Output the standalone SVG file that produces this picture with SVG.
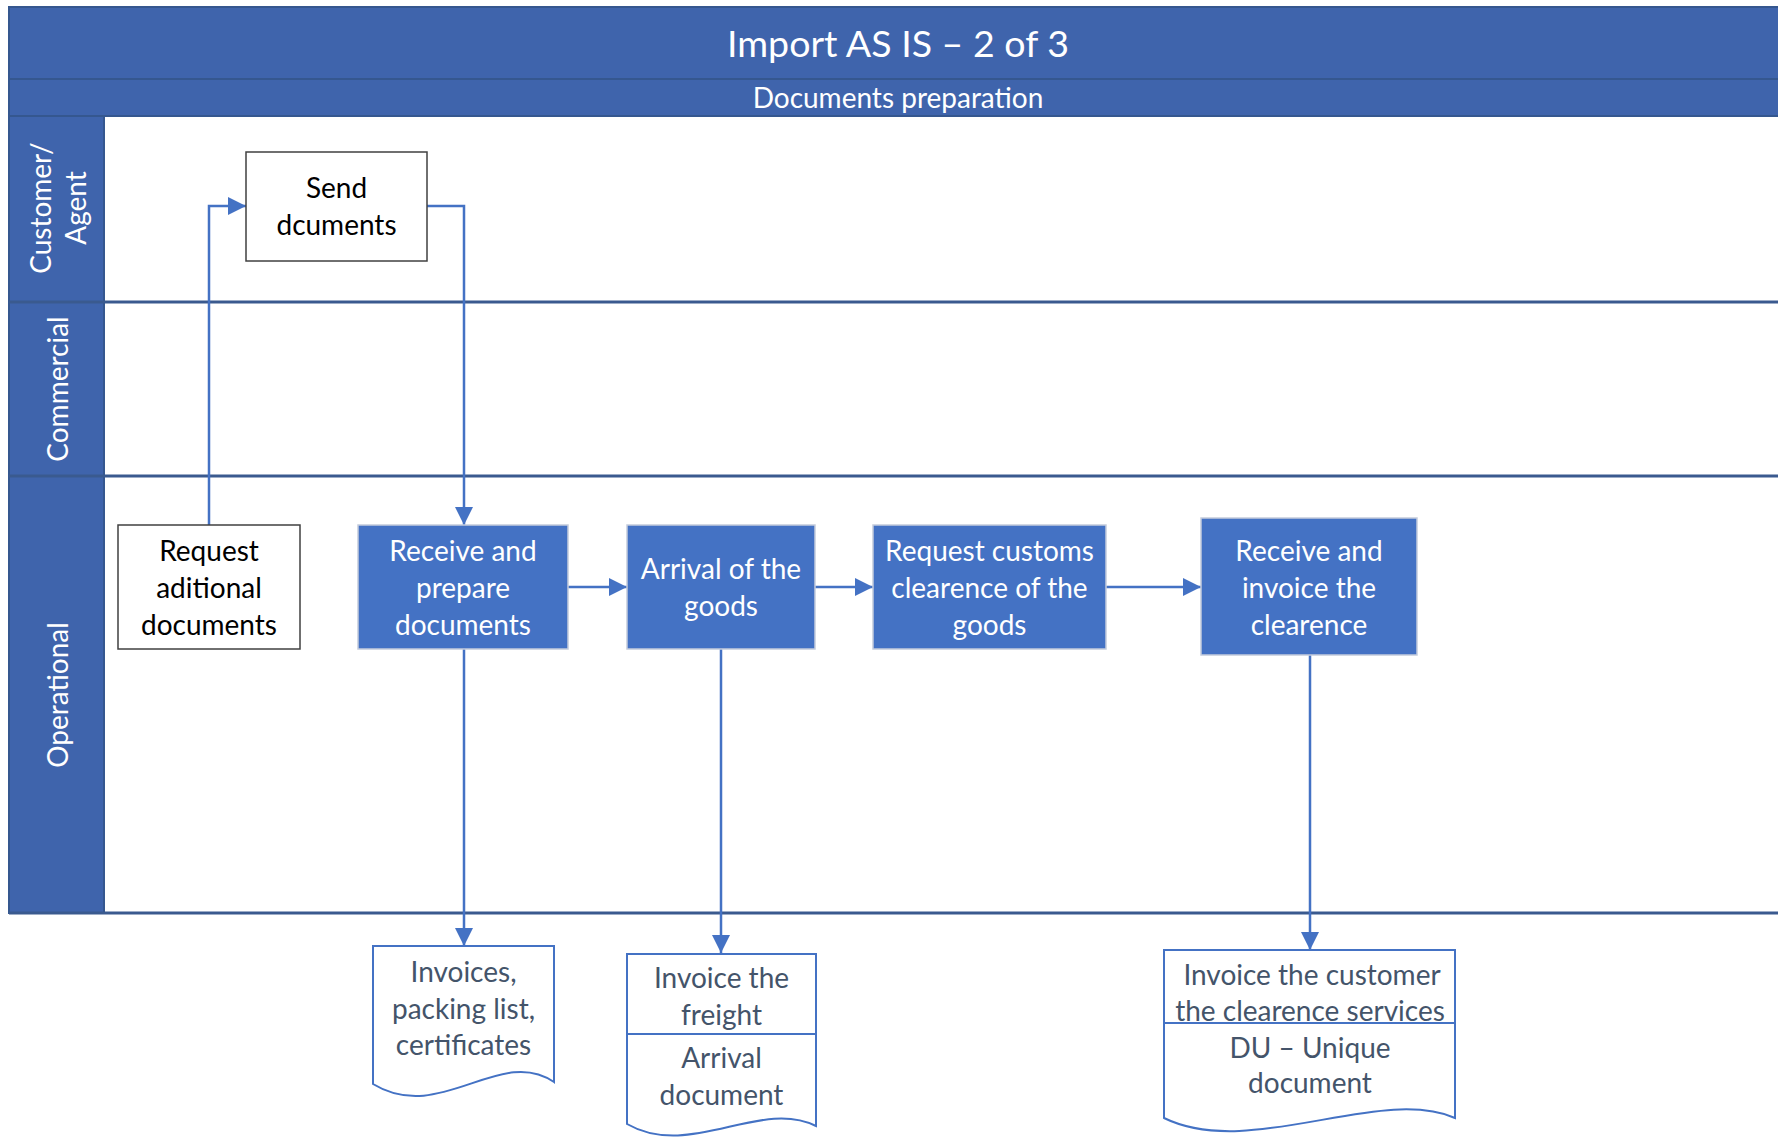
<svg xmlns="http://www.w3.org/2000/svg" width="1778" height="1139" viewBox="0 0 1778 1139">
  <style>
    .band { fill: #3F64AC; stroke: #35578F; stroke-width: 2; }
    .lane-line { stroke: #3A5A8F; stroke-width: 3; fill: none; }
    .hdr { fill: #FFFFFF; font-family: Lato, "Liberation Sans", sans-serif; text-anchor: middle; dominant-baseline: central; }
    .lane-lbl { fill: #FFFFFF; font-family: Lato, "Liberation Sans", sans-serif; font-size: 28px; text-anchor: middle; dominant-baseline: central; }
    .box-w { fill: #FFFFFF; stroke: #404040; stroke-width: 1.5; }
    .box-b { fill: #4472C4; stroke: #C4CCDC; stroke-width: 1.5; }
    .t-dark { fill: #000000; font-family: Lato, "Liberation Sans", sans-serif; font-size: 28px; text-anchor: middle; dominant-baseline: central; }
    .t-light { fill: #FFFFFF; font-family: Lato, "Liberation Sans", sans-serif; font-size: 28px; text-anchor: middle; dominant-baseline: central; }
    .doc { fill: #FFFFFF; stroke: #4472C4; stroke-width: 2; }
    .t-doc { fill: #44546A; font-family: Lato, "Liberation Sans", sans-serif; font-size: 28px; text-anchor: middle; dominant-baseline: central; }
    .conn { stroke: #4472C4; stroke-width: 2.5; fill: none; marker-end: url(#arrow); }
  </style>
  <defs>
    <marker id="arrow" markerUnits="userSpaceOnUse" markerWidth="18" markerHeight="18" viewBox="0 0 16 16" refX="16" refY="8" orient="auto">
      <path d="M0,0 L16,8 L0,16 Z" fill="#4472C4"/>
    </marker>
  </defs>

  <rect width="1778" height="1139" fill="#FFFFFF"/>

  <!-- pool header -->
  <g id="pool-header">
    <rect class="band" x="9" y="7" width="1775" height="72"/>
    <text class="hdr" x="898" y="42" font-size="37.5">Import AS IS – 2 of 3</text>
    <rect class="band" x="9" y="79" width="1775" height="37"/>
    <text class="hdr" x="898" y="97" font-size="28">Documents preparation</text>
  </g>

  <!-- swimlanes -->
  <g id="lanes">
    <rect class="band" x="9" y="116" width="95" height="797"/>
    <line class="lane-line" x1="9" y1="302" x2="1778" y2="302"/>
    <line class="lane-line" x1="9" y1="476" x2="1778" y2="476"/>
    <line class="lane-line" x1="9" y1="913" x2="1778" y2="913"/>
    <text class="lane-lbl" transform="translate(40,208) rotate(-90)">Customer/</text>
    <text class="lane-lbl" transform="translate(75,208) rotate(-90)">Agent</text>
    <text class="lane-lbl" transform="translate(57,389) rotate(-90)">Commercial</text>
    <text class="lane-lbl" transform="translate(57,695) rotate(-90)">Operational</text>
  </g>

  <!-- connectors -->
  <g id="connectors">
    <path class="conn" d="M209,525 V206 H246"/>
    <path class="conn" d="M427,206 H464 V525"/>
    <path class="conn" d="M568,587 H627"/>
    <path class="conn" d="M815,587 H873"/>
    <path class="conn" d="M1106,587 H1201"/>
    <path class="conn" d="M464,649 V946"/>
    <path class="conn" d="M721,649 V953"/>
    <path class="conn" d="M1310,655 V950"/>
  </g>

  <!-- process steps -->
  <g id="send-documents">
    <rect class="box-w" x="246" y="152" width="181" height="109"/>
    <text class="t-dark" x="336.5" y="187">Send</text>
    <text class="t-dark" x="336.5" y="224">dcuments</text>
  </g>

  <g id="request-additional-documents">
    <rect class="box-w" x="118" y="525" width="182" height="124"/>
    <text class="t-dark" x="209" y="550">Request</text>
    <text class="t-dark" x="209" y="587">aditional</text>
    <text class="t-dark" x="209" y="624">documents</text>
  </g>

  <g id="receive-prepare-documents">
    <rect class="box-b" x="358" y="525" width="210" height="124"/>
    <text class="t-light" x="463" y="550">Receive and</text>
    <text class="t-light" x="463" y="587">prepare</text>
    <text class="t-light" x="463" y="624">documents</text>
  </g>

  <g id="arrival-of-goods">
    <rect class="box-b" x="627" y="525" width="188" height="124"/>
    <text class="t-light" x="721" y="568">Arrival of the</text>
    <text class="t-light" x="721" y="605">goods</text>
  </g>

  <g id="request-customs-clearance">
    <rect class="box-b" x="873" y="525" width="233" height="124"/>
    <text class="t-light" x="989.5" y="550">Request customs</text>
    <text class="t-light" x="989.5" y="587">clearence of the</text>
    <text class="t-light" x="989.5" y="624">goods</text>
  </g>

  <g id="receive-invoice-clearance">
    <rect class="box-b" x="1201" y="518" width="216" height="137"/>
    <text class="t-light" x="1309" y="550">Receive and</text>
    <text class="t-light" x="1309" y="587">invoice the</text>
    <text class="t-light" x="1309" y="624">clearence</text>
  </g>

  <!-- documents -->
  <g id="doc-invoices">
    <path class="doc" d="M373,946 H554 V1082 C500,1045 440,1125 373,1084 Z"/>
    <text class="t-doc" x="463.5" y="971">Invoices,</text>
    <text class="t-doc" x="463.5" y="1008">packing list,</text>
    <text class="t-doc" x="463.5" y="1044">certificates</text>
  </g>

  <g id="doc-freight">
    <path class="doc" d="M627,954 H816 V1126 C760,1098 690,1160 627,1124 Z"/>
    <line x1="627" y1="1034" x2="816" y2="1034" stroke="#4472C4" stroke-width="2"/>
    <text class="t-doc" x="721.5" y="977">Invoice the</text>
    <text class="t-doc" x="721.5" y="1014">freight</text>
    <text class="t-doc" x="721.5" y="1057">Arrival</text>
    <text class="t-doc" x="721.5" y="1094">document</text>
  </g>

  <g id="doc-clearance-invoice">
    <path class="doc" d="M1164,950 H1455 V1118 C1380,1085 1250,1160 1164,1118 Z"/>
    <line x1="1164" y1="1023" x2="1455" y2="1023" stroke="#4472C4" stroke-width="2"/>
    <text class="t-doc" x="1312" y="974">Invoice the customer</text>
    <text class="t-doc" x="1310" y="1010">the clearence services</text>
    <text class="t-doc" x="1310" y="1047">DU – Unique</text>
    <text class="t-doc" x="1310" y="1082">document</text>
  </g>
</svg>
